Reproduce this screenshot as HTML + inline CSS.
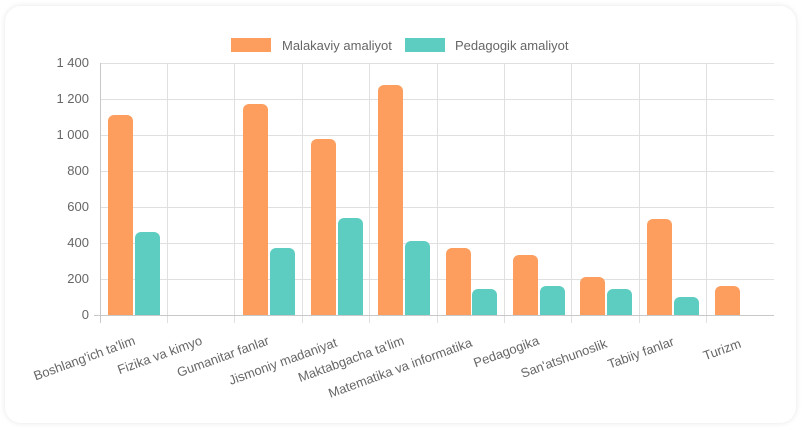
<!DOCTYPE html>
<html><head><meta charset="utf-8"><style>
html,body{margin:0;padding:0;background:#fff;width:806px;height:435px;overflow:hidden}
.card{position:absolute;left:5px;top:6px;width:791px;height:417px;border-radius:16px;background:#fff;box-shadow:0 0 6px rgba(0,0,0,0.10)}
svg{position:absolute;left:0;top:0}
text{font-family:"Liberation Sans",sans-serif;font-size:13px;fill:#666}
</style></head><body>
<div class="card"></div>
<svg width="806" height="435" viewBox="0 0 806 435">
<g stroke="#e0e0e0" stroke-width="1">
<line x1="100" y1="63.5" x2="774" y2="63.5"/><line x1="100" y1="99.5" x2="774" y2="99.5"/>
<line x1="100" y1="135.5" x2="774" y2="135.5"/><line x1="100" y1="171.5" x2="774" y2="171.5"/>
<line x1="100" y1="207.5" x2="774" y2="207.5"/><line x1="100" y1="243.5" x2="774" y2="243.5"/>
<line x1="100" y1="279.5" x2="774" y2="279.5"/>
<line x1="167.5" y1="63" x2="167.5" y2="323"/><line x1="234.5" y1="63" x2="234.5" y2="323"/>
<line x1="302.5" y1="63" x2="302.5" y2="323"/><line x1="369.5" y1="63" x2="369.5" y2="323"/>
<line x1="437.5" y1="63" x2="437.5" y2="323"/><line x1="504.5" y1="63" x2="504.5" y2="323"/>
<line x1="571.5" y1="63" x2="571.5" y2="323"/><line x1="639.5" y1="63" x2="639.5" y2="323"/>
<line x1="706.5" y1="63" x2="706.5" y2="323"/>
</g>
<g stroke="#c8c8c8"><line x1="100.5" y1="63" x2="100.5" y2="323"/><line x1="94" y1="315.5" x2="774" y2="315.5"/></g>
<g text-anchor="end">
<text x="89" y="67">1 400</text><text x="89" y="103">1 200</text><text x="89" y="139">1 000</text>
<text x="89" y="175">800</text><text x="89" y="211">600</text><text x="89" y="247">400</text>
<text x="89" y="283">200</text><text x="89" y="319">0</text>
</g>
<g fill="#fd9e5e">
<path d="M108 315V121a6 6 0 0 1 6-6h13a6 6 0 0 1 6 6V315z"/>
<path d="M243 315V110a6 6 0 0 1 6-6h13a6 6 0 0 1 6 6V315z"/>
<path d="M311 315V145a6 6 0 0 1 6-6h13a6 6 0 0 1 6 6V315z"/>
<path d="M378 315V91a6 6 0 0 1 6-6h13a6 6 0 0 1 6 6V315z"/>
<path d="M446 315V254a6 6 0 0 1 6-6h13a6 6 0 0 1 6 6V315z"/>
<path d="M513 315V261a6 6 0 0 1 6-6h13a6 6 0 0 1 6 6V315z"/>
<path d="M580 315V283a6 6 0 0 1 6-6h13a6 6 0 0 1 6 6V315z"/>
<path d="M647 315V225a6 6 0 0 1 6-6h13a6 6 0 0 1 6 6V315z"/>
<path d="M715 315V292a6 6 0 0 1 6-6h13a6 6 0 0 1 6 6V315z"/>
</g>
<g fill="#5dcdc1">
<path d="M135 315V238a6 6 0 0 1 6-6h13a6 6 0 0 1 6 6V315z"/>
<path d="M270 315V254a6 6 0 0 1 6-6h13a6 6 0 0 1 6 6V315z"/>
<path d="M338 315V224a6 6 0 0 1 6-6h13a6 6 0 0 1 6 6V315z"/>
<path d="M405 315V247a6 6 0 0 1 6-6h13a6 6 0 0 1 6 6V315z"/>
<path d="M472 315V295a6 6 0 0 1 6-6h13a6 6 0 0 1 6 6V315z"/>
<path d="M540 315V292a6 6 0 0 1 6-6h13a6 6 0 0 1 6 6V315z"/>
<path d="M607 315V295a6 6 0 0 1 6-6h13a6 6 0 0 1 6 6V315z"/>
<path d="M674 315V303a6 6 0 0 1 6-6h13a6 6 0 0 1 6 6V315z"/>
</g>
<rect x="231" y="38" width="40" height="14" fill="#fd9e5e"/>
<text x="282" y="50">Malakaviy amaliyot</text>
<rect x="405" y="38" width="40" height="14" fill="#5dcdc1"/>
<text x="455" y="50">Pedagogik amaliyot</text>
<g text-anchor="end">
<text transform="translate(136,344) rotate(-20)">Boshlang'ich ta'lim</text>
<text transform="translate(203,344) rotate(-20)">Fizika va kimyo</text>
<text transform="translate(270,344) rotate(-20)">Gumanitar fanlar</text>
<text transform="translate(338,346) rotate(-20)">Jismoniy madaniyat</text>
<text transform="translate(405,344) rotate(-20)">Maktabgacha ta'lim</text>
<text transform="translate(473,346) rotate(-20)">Matematika va informatika</text>
<text transform="translate(540,344) rotate(-20)">Pedagogika</text>
<text transform="translate(608,347) rotate(-20)">San'atshunoslik</text>
<text transform="translate(675,345) rotate(-20)">Tabiiy fanlar</text>
<text transform="translate(742,347) rotate(-20)">Turizm</text>
</g>
</svg>
</body></html>
